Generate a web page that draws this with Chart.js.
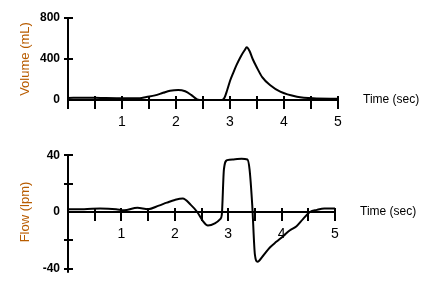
<!DOCTYPE html>
<html>
<head>
<meta charset="utf-8">
<script src="https://cdn.jsdelivr.net/npm/chart.js@4.4.1/dist/chart.umd.min.js"></script>
<style>
  html, body { margin: 0; padding: 0; background: #fff; }
  #wrap { position: relative; width: 446px; height: 284px; }
  #volChart { position: absolute; left: 0; top: 0; }
  #flowChart { position: absolute; left: 0; top: 140px; }
</style>
</head>
<body>
<div id="wrap">
  <canvas id="volChart" width="446" height="142"></canvas>
  <canvas id="flowChart" width="446" height="144"></canvas>
</div>
<script>
// Volumen (mL) frente al tiempo (s)
var volTimes  = [0, 0.3, 0.6, 0.9, 1.2, 1.33, 1.45, 1.61, 1.76, 1.89, 2.04, 2.17, 2.28, 2.39, 2.44, 2.85, 2.9, 2.95, 3.0, 3.06, 3.12, 3.2, 3.27, 3.31, 3.36, 3.42, 3.49, 3.6, 3.74, 3.93, 4.24, 4.54, 5.0];
var volValues = [20, 22, 20, 18, 18, 18, 30, 45, 70, 90, 98, 85, 50, 5, 0, 0, 25, 100, 185, 265, 340, 425, 485, 514, 480, 400, 325, 220, 146, 81, 32, 16, 12];

// Flujo (lpm) frente al tiempo (s)
var flowTimes  = [0, 0.3, 0.6, 0.9, 1.05, 1.3, 1.5, 1.7, 1.85, 2.0, 2.15, 2.3, 2.42, 2.52, 2.62, 2.75, 2.85, 2.88, 2.92, 2.98, 3.1, 3.25, 3.36, 3.4, 3.45, 3.5, 3.55, 3.65, 3.78, 3.9, 4.03, 4.15, 4.28, 4.4, 4.53, 4.66, 4.8, 5.0];
var flowValues = [2, 2, 2.5, 2, 1.2, 3, 2, 4.5, 6.6, 8.5, 9.5, 5, 0, -6, -9.5, -8, -5, -2, 30, 36.5, 37, 37.5, 37, 30, 5, -30, -35, -31, -25, -21, -17, -13, -10, -5, 0, 1.5, 2.5, 2.5];

// Etiquetas de los ejes
var xTickLabels = [1, 2, 3, 4, 5];
var volTickLabels = [0, 400, 800];
var flowTickLabels = [-40, 0, 40];

var tituloColor = '#b85c00';

function puntos(ts, vs) {
  return ts.map(function(t, i) { return { x: t, y: vs[i] }; });
}

// Marcas que cruzan los ejes y el texto "Time (sec)"
var marcasCruzadas = {
  id: 'marcasCruzadas',
  afterDraw: function(chart) {
    var ctx = chart.ctx;
    var x = chart.scales.x, y = chart.scales.y;
    var y0 = y.getPixelForValue(0);
    ctx.save();
    ctx.strokeStyle = '#000';
    ctx.lineWidth = 2;
    ctx.beginPath();
    x.ticks.forEach(function(t) {
      var px = Math.round(x.getPixelForValue(t.value));
      ctx.moveTo(px, y0 - 4);
      ctx.lineTo(px, y0 + 9);
    });
    y.ticks.forEach(function(t) {
      if (t.value === 0) return;
      var py = Math.round(y.getPixelForValue(t.value));
      ctx.moveTo(x.left - 4, py);
      ctx.lineTo(x.left + 5, py);
    });
    // el eje vertical sigue un poco por debajo
    ctx.moveTo(x.left, y.bottom);
    ctx.lineTo(x.left, y.bottom + 4);
    ctx.stroke();
    ctx.fillStyle = '#000';
    ctx.font = '12px "Liberation Sans", Arial, sans-serif';
    ctx.textBaseline = 'middle';
    ctx.textAlign = 'left';
    ctx.fillText('Time (sec)', x.right + 25, y0);
    ctx.restore();
  }
};

function opciones(yMin, yMax, yStep, yLabels, titulo, padding, margenDerecho) {
  return {
    responsive: false,
    animation: false,
    layout: { padding: { left: 0, top: padding.top, right: margenDerecho, bottom: padding.bottom } },
    plugins: { legend: { display: false }, tooltip: { enabled: false } },
    elements: { point: { radius: 0 } },
    scales: {
      x: {
        type: 'linear',
        position: { y: 0 },
        min: 0, max: 5,
        grid: { display: false, drawTicks: false },
        border: { display: true, color: '#000', width: 2 },
        ticks: {
          stepSize: 0.5,
          autoSkip: false,
          maxRotation: 0,
          padding: 14,
          color: '#000',
          font: { family: '"Liberation Sans", Arial, sans-serif', size: 14 },
          callback: function(v) { return xTickLabels.indexOf(v) >= 0 ? String(v) : ''; }
        }
      },
      y: {
        min: yMin, max: yMax,
        grid: { display: false, drawTicks: false },
        border: { display: true, color: '#000', width: 2 },
        ticks: {
          stepSize: yStep,
          padding: 8,
          color: '#000',
          font: { family: '"Liberation Sans", Arial, sans-serif', size: 12, weight: 'bold' },
          callback: function(v) { return yLabels.indexOf(v) >= 0 ? String(v) : ''; }
        },
        title: {
          display: true,
          text: titulo,
          color: tituloColor,
          padding: { top: 18, bottom: 0 },
          font: { family: '"Liberation Sans", Arial, sans-serif', size: 13 }
        },
        afterFit: function(scale) { scale.width = 68; }
      }
    }
  };
}

new Chart(document.getElementById('volChart'), {
  type: 'line',
  data: {
    datasets: [{
      data: puntos(volTimes, volValues),
      borderColor: '#000',
      borderWidth: 2,
      cubicInterpolationMode: 'monotone',
      fill: false
    }]
  },
  options: opciones(0, 800, 400, volTickLabels, 'Volume (mL)', { top: 18, bottom: 42 }, 108),
  plugins: [marcasCruzadas]
});

new Chart(document.getElementById('flowChart'), {
  type: 'line',
  data: {
    datasets: [{
      data: puntos(flowTimes, flowValues),
      borderColor: '#000',
      borderWidth: 2,
      cubicInterpolationMode: 'monotone',
      fill: false
    }]
  },
  options: opciones(-40, 40, 20, flowTickLabels, 'Flow (lpm)', { top: 10, bottom: 10 }, 111),
  plugins: [marcasCruzadas]
});
</script>
</body>
</html>
